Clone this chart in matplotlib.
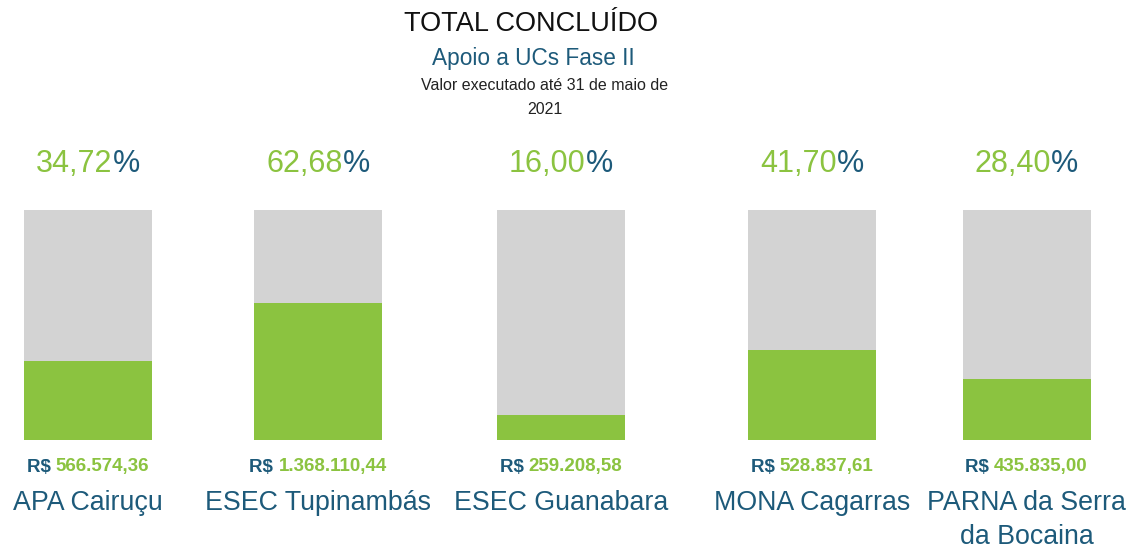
import matplotlib.pyplot as plt

plt.rcParams['font.family'] = ['Liberation Sans', 'DejaVu Sans']

names = ['APA Cairuçu', 'ESEC Tupinambás', 'ESEC Guanabara', 'MONA Cagarras', 'PARNA da Serra\nda Bocaina']
# filled share as drawn in the bars
fill = [34.3, 59.4, 10.9, 39.1, 26.4]
pct_labels = ['34,72', '62,68', '16,00', '41,70', '28,40']
valores = ['566.574,36', '1.368.110,44', '259.208,58', '528.837,61', '435.835,00']

GREEN = '#8bc340'
GRAY = '#d3d3d3'
BLUE = '#1d5a7a'

W, H = 1131, 550
fig = plt.figure(figsize=(W / 100, H / 100), dpi=100)
ax = fig.add_axes([0, 0, 1, 1])

# pixel layout -> data units (100% bar = 230 px tall, base at y=440 px)
top_px, base_px = 210, 440
u = 100 / (base_px - top_px)
ax.set_xlim(0, W)
ax.set_ylim(-(H - base_px) * u, 100 + top_px * u)
ax.axis('off')

xs = [88, 318, 561, 812, 1026.5]
bw = 128

ax.bar(xs, [100] * len(xs), width=bw, color=GRAY)
ax.bar(xs, fill, width=bw, color=GREEN)

renderer = fig.canvas.get_renderer()


def px_y(p):
    return (base_px - p) * u


def two_color(x, y, a, ca, b, cb, size, weight='normal'):
    # measure both parts, then place them side by side centred on x
    t1 = ax.text(0, 0, a, fontsize=size, fontweight=weight)
    full = ax.text(0, 0, a + b, fontsize=size, fontweight=weight)
    w1 = t1.get_window_extent(renderer).width
    wf = full.get_window_extent(renderer).width
    t1.remove()
    full.remove()
    left = x - wf / 2
    ax.text(left, y, a, fontsize=size, fontweight=weight, color=ca, ha='left', va='center')
    ax.text(left + w1, y, b, fontsize=size, fontweight=weight, color=cb, ha='left', va='center')


for i, x in enumerate(xs):
    two_color(x, px_y(164), pct_labels[i], GREEN, '%', BLUE, 22)
    two_color(x, px_y(467), 'R$ ', BLUE, valores[i], GREEN, 13.5, 'bold')
    for j, line in enumerate(names[i].split('\n')):
        ax.text(x, px_y(503 + 34 * j), line, ha='center', va='center', fontsize=19.3, color=BLUE)

fig.text(531 / W, 1 - 24 / H, 'TOTAL CONCLUÍDO', ha='center', va='center', fontsize=19.5, color='#111111')
fig.text(533 / W, 1 - 58 / H, 'Apoio a UCs Fase II', ha='center', va='center', fontsize=16.3, color=BLUE)
fig.text(545 / W, 1 - 86 / H, 'Valor executado até 31 de maio de', ha='center', va='center', fontsize=11.5, color='#222222')
fig.text(545 / W, 1 - 110 / H, '2021', ha='center', va='center', fontsize=11.5, color='#222222')

fig.savefig('out.png', dpi=100)
